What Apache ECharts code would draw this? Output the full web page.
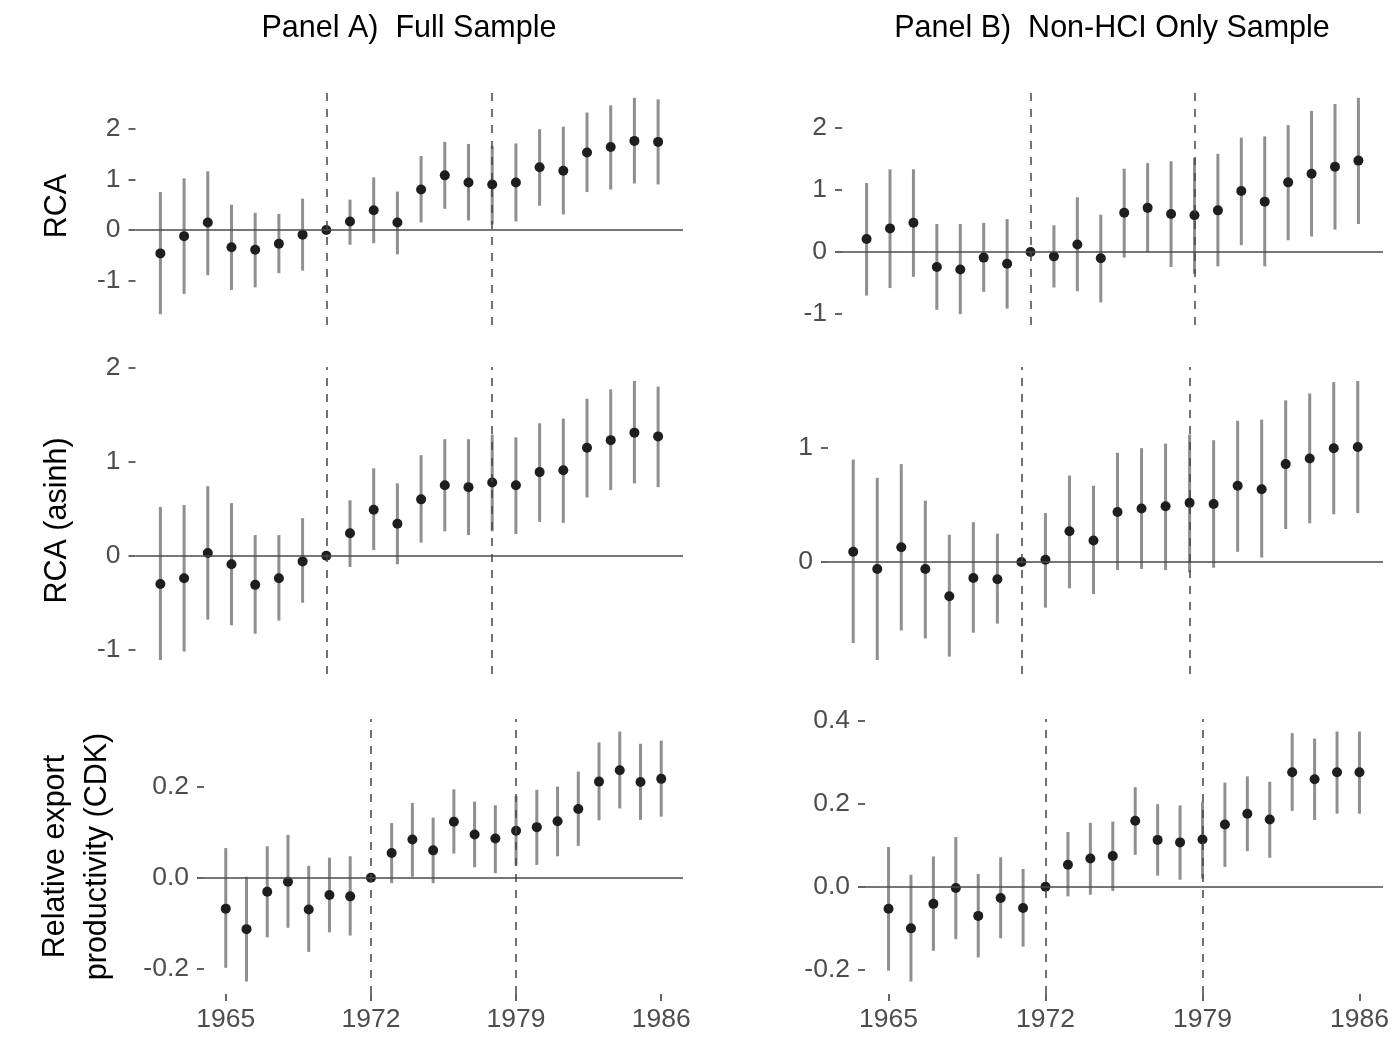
<!DOCTYPE html>
<html>
<head>
<meta charset="utf-8">
<script src="https://cdn.jsdelivr.net/npm/echarts@6/dist/echarts.min.js"></script>
<style>
html,body{margin:0;padding:0;background:#fff;}
#chart{width:1400px;height:1050px;}
</style>
</head>
<body>
<div id="chart"></div>
<script>
// ---- data ----
const years = [1965,1966,1967,1968,1969,1970,1971,1972,1973,1974,1975,1976,1977,1978,1979,1980,1981,1982,1983,1984,1985,1986];
const xTickLabels = [1965,1972,1979,1986];
const vLines = [1972,1979];

const panelTitles = ['Panel A)  Full Sample','Panel B)  Non-HCI Only Sample'];
const rowTitles = ['RCA','RCA (asinh)','Relative export\nproductivity (CDK)'];

// Panel A, RCA
const rcaA_est = [-0.46,-0.12,0.15,-0.34,-0.39,-0.27,-0.09,0,0.17,0.39,0.15,0.80,1.08,0.94,0.90,0.94,1.24,1.17,1.53,1.64,1.76,1.74];
const rcaA_lo  = [-1.66,-1.26,-0.89,-1.18,-1.13,-0.85,-0.80,null,-0.29,-0.26,-0.48,0.15,0.42,0.19,0.11,0.17,0.48,0.31,0.75,0.80,0.92,0.90];
const rcaA_hi  = [0.75,1.02,1.16,0.50,0.34,0.32,0.62,null,0.60,1.04,0.76,1.46,1.74,1.70,1.66,1.71,1.99,2.04,2.32,2.46,2.61,2.58];
// Panel B, RCA
const rcaB_est = [0.21,0.38,0.47,-0.24,-0.28,-0.09,-0.19,0,-0.07,0.12,-0.10,0.63,0.71,0.61,0.59,0.67,0.98,0.81,1.12,1.26,1.37,1.47];
const rcaB_lo  = [-0.70,-0.58,-0.40,-0.93,-1.00,-0.64,-0.91,null,-0.57,-0.63,-0.81,-0.09,0.00,-0.24,-0.35,-0.23,0.11,-0.23,0.19,0.25,0.36,0.45];
const rcaB_hi  = [1.11,1.33,1.33,0.45,0.45,0.47,0.53,null,0.43,0.88,0.60,1.34,1.43,1.46,1.51,1.58,1.84,1.86,2.04,2.27,2.38,2.48];
// Panel A, RCA (asinh)
const asA_est = [-0.30,-0.24,0.03,-0.09,-0.31,-0.24,-0.06,0,0.24,0.49,0.34,0.60,0.75,0.73,0.78,0.75,0.89,0.91,1.15,1.23,1.31,1.27];
const asA_lo  = [-1.11,-1.02,-0.68,-0.74,-0.83,-0.69,-0.50,null,-0.12,0.06,-0.09,0.14,0.26,0.22,0.26,0.23,0.36,0.35,0.62,0.70,0.77,0.73];
const asA_hi  = [0.52,0.54,0.74,0.56,0.22,0.22,0.40,null,0.59,0.93,0.77,1.07,1.24,1.24,1.29,1.26,1.41,1.46,1.67,1.77,1.86,1.80];
// Panel B, RCA (asinh)
const asB_est = [0.09,-0.06,0.13,-0.06,-0.30,-0.14,-0.15,0,0.02,0.27,0.19,0.44,0.47,0.49,0.52,0.51,0.67,0.64,0.86,0.91,1.00,1.01];
const asB_lo  = [-0.71,-0.86,-0.60,-0.67,-0.83,-0.62,-0.54,null,-0.40,-0.23,-0.28,-0.07,-0.06,-0.07,-0.09,-0.05,0.09,0.04,0.29,0.34,0.42,0.43];
const asB_hi  = [0.90,0.74,0.86,0.54,0.24,0.35,0.25,null,0.43,0.76,0.67,0.96,1.00,1.04,1.12,1.07,1.24,1.25,1.42,1.48,1.58,1.59];
// Panel A, CDK
const cdkA_est = [-0.068,-0.113,-0.031,-0.009,-0.070,-0.038,-0.041,0,0.054,0.084,0.060,0.123,0.095,0.086,0.103,0.111,0.124,0.151,0.211,0.236,0.210,0.217];
const cdkA_lo  = [-0.198,-0.228,-0.131,-0.110,-0.163,-0.120,-0.127,null,-0.012,0.002,-0.012,0.053,0.023,0.010,0.027,0.028,0.047,0.070,0.126,0.152,0.127,0.134];
const cdkA_hi  = [0.065,0.002,0.069,0.094,0.026,0.044,0.047,null,0.120,0.164,0.132,0.194,0.167,0.159,0.180,0.193,0.200,0.233,0.297,0.321,0.294,0.301];
// Panel B, CDK
const cdkB_est = [-0.053,-0.100,-0.041,-0.003,-0.070,-0.027,-0.051,0,0.053,0.068,0.074,0.159,0.113,0.107,0.114,0.150,0.176,0.162,0.276,0.259,0.276,0.276];
const cdkB_lo  = [-0.202,-0.228,-0.154,-0.126,-0.170,-0.124,-0.144,null,-0.023,-0.019,-0.010,0.077,0.027,0.017,0.020,0.048,0.086,0.070,0.183,0.161,0.176,0.176];
const cdkB_hi  = [0.096,0.029,0.073,0.120,0.031,0.071,0.043,null,0.132,0.154,0.157,0.240,0.199,0.196,0.205,0.251,0.266,0.253,0.370,0.357,0.374,0.374];

// y tick labels per panel
const yTicks1 = [-1,0,1,2];
const yTicks2 = [-1,0,1,2];
const yTicks3 = [-1,0,1,2];
const yTicks4 = [0,1];
const yTicks5 = [-0.2,0.0,0.2];
const yTicks6 = [-0.2,0.0,0.2,0.4];

// ---- layout (styles/positions) ----
const panels = [
  {est:rcaA_est, lo:rcaA_lo, hi:rcaA_hi, ticks:yTicks1, dec:0, grid:{left:135.5, top:87, width:547.5, height:238}, name:rowTitles[0], nameGap:57, xLabels:false},
  {est:rcaB_est, lo:rcaB_lo, hi:rcaB_hi, ticks:yTicks2, dec:0, grid:{left:842, top:87, width:541, height:238}, name:'', nameGap:0, xLabels:false},
  {est:asA_est, lo:asA_lo, hi:asA_hi, ticks:yTicks3, dec:0, grid:{left:135.5, top:367, width:547.5, height:307}, name:rowTitles[1], nameGap:57, xLabels:false},
  {est:asB_est, lo:asB_lo, hi:asB_hi, ticks:yTicks4, dec:0, grid:{left:828, top:367, width:555, height:307}, name:'', nameGap:0, xLabels:false},
  {est:cdkA_est, lo:cdkA_lo, hi:cdkA_hi, ticks:yTicks5, dec:1, grid:{left:204, top:719, width:479, height:275}, name:rowTitles[2], nameGap:85, xLabels:true},
  {est:cdkB_est, lo:cdkB_lo, hi:cdkB_hi, ticks:yTicks6, dec:1, grid:{left:865, top:719, width:518, height:275}, name:'', nameGap:0, xLabels:true}
];

const FONT = '"Liberation Sans", Arial, sans-serif';
const xMin = years[0] - 0.05*(years[years.length-1]-years[0]);
const xMax = years[years.length-1] + 0.05*(years[years.length-1]-years[0]);

const grids = [], xAxes = [], yAxes = [], series = [];
panels.forEach((p, i) => {
  const los = p.lo.filter(v => v !== null), his = p.hi.filter(v => v !== null);
  const lo = Math.min(...los, ...p.est), hi = Math.max(...his, ...p.est);
  const pad = 0.05*(hi-lo);
  grids.push(Object.assign({containLabel:false}, p.grid));
  xAxes.push({
    type:'value', gridIndex:i, min:xMin, max:xMax, position:'bottom',
    axisLine:{show:false, onZero:false}, splitLine:{show:false},
    axisTick:{show:p.xLabels, length:7, lineStyle:{color:'#333', width:1.5}, customValues:xTickLabels},
    axisLabel:{show:p.xLabels, customValues:xTickLabels, fontSize:26.5, color:'#4d4d4d', fontFamily:FONT, margin:12,
      formatter: v => String(v)}
  });
  yAxes.push({
    type:'value', gridIndex:i, min:lo-pad, max:hi+pad, position:'left',
    axisLine:{show:false, onZero:false}, splitLine:{show:false},
    axisTick:{show:true, length:7, lineStyle:{color:'#333', width:1.5}, customValues:p.ticks},
    axisLabel:{customValues:p.ticks, fontSize:26.5, color:'#4d4d4d', fontFamily:FONT, margin:15,
      formatter: v => (p.dec ? Number(v).toFixed(p.dec) : String(Math.round(v)))},
    name:p.name, nameLocation:'middle', nameRotate:90, nameGap:p.nameGap,
    nameTextStyle:{fontSize:30.5, color:'#000', fontFamily:FONT, lineHeight:42}
  });
  // error bars
  const ebData = [];
  years.forEach((y, k) => { if (p.lo[k] !== null && p.hi[k] !== null) ebData.push([y, p.lo[k], p.hi[k]]); });
  series.push({
    type:'custom', xAxisIndex:i, yAxisIndex:i, z:2, silent:true,
    data:ebData, encode:{x:0, y:[1,2]},
    renderItem:(params, api) => {
      const a = api.coord([api.value(0), api.value(1)]);
      const b = api.coord([api.value(0), api.value(2)]);
      return {type:'line', shape:{x1:a[0], y1:a[1], x2:b[0], y2:b[1]}, style:{stroke:'#8f8f8f', lineWidth:3}};
    }
  });
  // reference lines
  series.push({
    type:'scatter', xAxisIndex:i, yAxisIndex:i, data:[], z:3, silent:true,
    markLine:{
      silent:true, symbol:'none', animation:false, label:{show:false},
      data:[
        {yAxis:0, lineStyle:{color:'#4a4a4a', width:1.6, type:'solid'}},
        ...vLines.map(v => ({xAxis:v, lineStyle:{color:'#444', width:1.5, type:[8,8]}}))
      ]
    }
  });
  // points
  series.push({
    type:'scatter', xAxisIndex:i, yAxisIndex:i, z:4, silent:true,
    symbol:'circle', symbolSize:10,
    itemStyle:{color:'#1e1e1e', opacity:1},
    data: years.map((y, k) => [y, p.est[k]])
  });
});

const chart = echarts.init(document.getElementById('chart'), null, {renderer:'canvas'});
chart.setOption({
  animation:false,
  backgroundColor:'#fff',
  grid:grids, xAxis:xAxes, yAxis:yAxes, series:series,
  graphic:[
    {type:'text', x:409, y:29, style:{text:panelTitles[0], fontSize:30.5, fill:'#000', fontFamily:FONT, align:'center', verticalAlign:'middle'}},
    {type:'text', x:1112, y:29, style:{text:panelTitles[1], fontSize:30.5, fill:'#000', fontFamily:FONT, align:'center', verticalAlign:'middle'}}
  ]
});
</script>
</body>
</html>
